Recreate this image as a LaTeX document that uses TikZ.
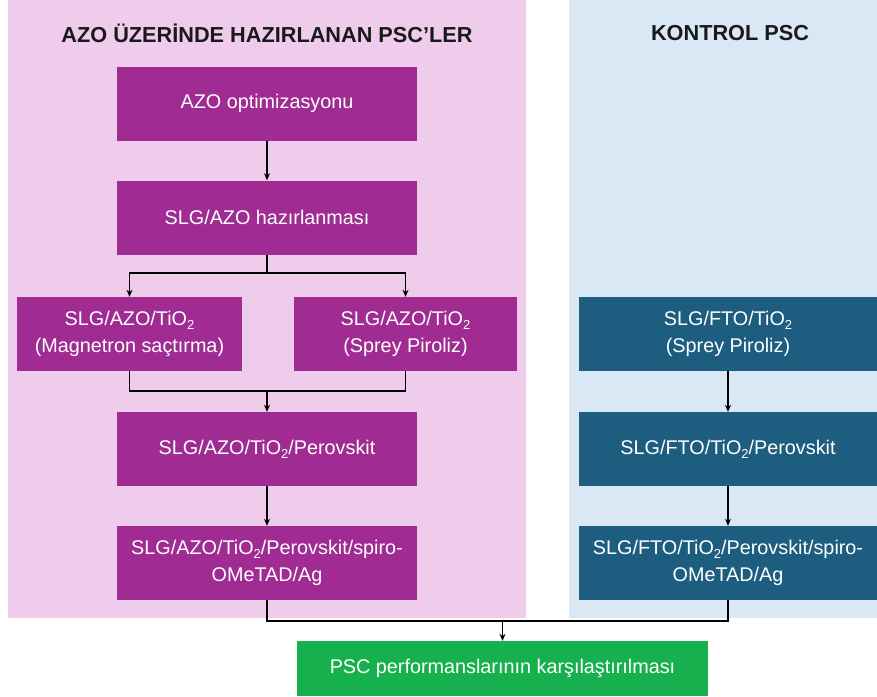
\documentclass[tikz,border=0pt]{standalone}
\usepackage{fontspec}
\setmainfont{Liberation Sans}
\usetikzlibrary{arrows.meta}
\definecolor{pinkbg}{HTML}{F0CCEC}
\definecolor{bluebg}{HTML}{DAE8F5}
\definecolor{purplebox}{HTML}{A02B93}
\definecolor{tealbox}{HTML}{1D5E80}
\definecolor{greenbox}{HTML}{17B04F}
\newcommand{\lowtwo}{\raisebox{-0.35ex}{\fontsize{13}{13}\selectfont 2}}
\tikzset{
  boxtext/.style={text=white, align=center, inner sep=0pt, font=\fontsize{19.8}{27}\selectfont},
  pbox/.style={boxtext, fill=purplebox, draw=none, minimum height=74pt},
  tbox/.style={boxtext, fill=tealbox, draw=none, minimum height=74pt, minimum width=298pt},
  gbox/.style={boxtext, fill=greenbox, draw=none, minimum height=55pt, minimum width=411pt},
  conn/.style={draw=black, line width=1.4pt},
  arr/.style={conn, -{Stealth[length=7pt,width=6pt]}},
  ttl/.style={font=\fontsize{21.7}{24}\selectfont\bfseries, text=black!90}
}
\begin{document}
\begin{tikzpicture}[x=1pt,y=-1pt]
\useasboundingbox (0,0) rectangle (877,696);
\fill[white] (0,0) rectangle (877,696);
% panels
\fill[pinkbg] (8,0) rectangle (526,618);
\fill[bluebg] (569,0) rectangle (877,618);
\node[ttl] (t1) at (267,33) {AZO ÜZERİNDE HAZIRLANAN PSC’LER};
\node[ttl] (t2) at (730,33) {KONTROL PSC};
% left column
\node[pbox, minimum width=300pt] (b1) at (267,103.5) {AZO optimizasyonu};
\node[pbox, minimum width=300pt] (b2) at (267,217.5) {SLG/AZO hazırlanması};
\node[pbox, minimum width=225pt] (l1) at (129.5,334) {SLG/AZO/TiO\lowtwo\\(Magnetron saçtırma)};
\node[pbox, minimum width=223pt] (r1) at (405.5,334) {SLG/AZO/TiO\lowtwo\\(Sprey Piroliz)};
\node[pbox, minimum width=300pt] (p1) at (267,449) {SLG/AZO/TiO\lowtwo/Perovskit};
\node[pbox, minimum width=300pt] (f1) at (267,563) {SLG/AZO/TiO\lowtwo/Perovskit/spiro-\\OMeTAD/Ag};
% right column
\node[tbox] (c1) at (728,334) {SLG/FTO/TiO\lowtwo\\(Sprey Piroliz)};
\node[tbox] (c2) at (728,449) {SLG/FTO/TiO\lowtwo/Perovskit};
\node[tbox] (c3) at (728,563) {SLG/FTO/TiO\lowtwo/Perovskit/spiro-\\OMeTAD/Ag};
% green
\node[gbox] (g) at (502.5,668.5) {PSC performanslarının karşılaştırılması};
% connectors
\draw[arr] (b1) -- (b2);
\coordinate (s) at (267,273);
\draw[conn] (b2.south) -- (s);
\draw[arr] (s) -| (l1.north);
\draw[arr] (s) -| (r1.north);
\coordinate (m) at (267,391);
\draw[conn] (l1.south) |- (m) -| (r1.south);
\draw[arr] (m) -- (p1);
\draw[arr] (p1) -- (f1);
\draw[arr] (c1) -- (c2);
\draw[arr] (c2) -- (c3);
\coordinate (j) at (502.5,621);
\draw[conn] (f1.south) |- (j) -| (c3.south);
\draw[arr] (j) -- (g);
\end{tikzpicture}
\end{document}
